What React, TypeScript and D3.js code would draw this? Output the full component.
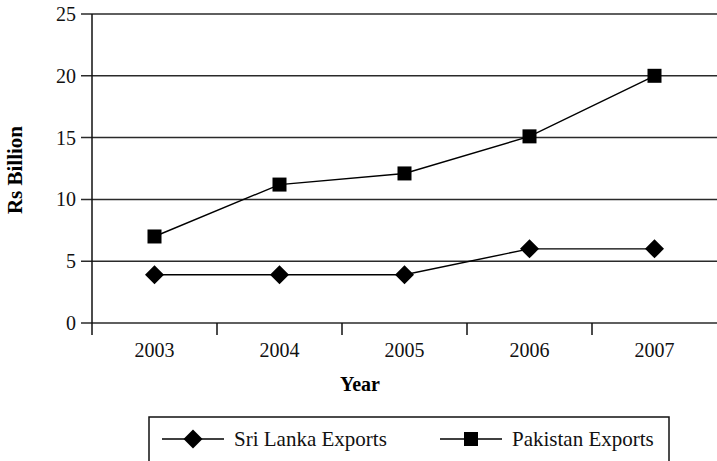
import React from "react";
import * as d3 from "d3";

// chart data
const years = ["2003", "2004", "2005", "2006", "2007"];
const sriLankaExports = [3.9, 3.9, 3.9, 6, 6];
const pakistanExports = [7, 11.2, 12.1, 15.1, 20];
const yTicks = [0, 5, 10, 15, 20, 25];

const FONT = "'Liberation Serif', 'Times New Roman', serif";

const App = () => {
  const svgRef = React.useRef<SVGSVGElement | null>(null);
  const width = 717;
  const height = 461;
  const plot = { left: 92, right: 717, top: 14, bottom: 323 };

  React.useEffect(() => {
    const svg = d3.select(svgRef.current);
    svg.selectAll("*").remove();

    const x = d3
      .scaleBand<string>()
      .domain(years)
      .range([plot.left, plot.right]);
    const y = d3.scaleLinear().domain([0, 25]).range([plot.bottom, plot.top]);
    const cx = (d: string) => (x(d) as number) + x.bandwidth() / 2;

    // horizontal grid lines
    svg
      .append("g")
      .selectAll("line")
      .data(yTicks)
      .enter()
      .append("line")
      .attr("x1", plot.left - 11)
      .attr("x2", plot.right)
      .attr("y1", (d) => y(d))
      .attr("y2", (d) => y(d))
      .style("stroke", "#2a2a2a")
      .style("stroke-width", 1.5);

    // y axis line
    svg
      .append("line")
      .attr("x1", plot.left)
      .attr("x2", plot.left)
      .attr("y1", y(25))
      .attr("y2", plot.bottom + 12)
      .style("stroke", "#111")
      .style("stroke-width", 1.5);

    // y tick labels
    svg
      .append("g")
      .selectAll("text")
      .data(yTicks)
      .enter()
      .append("text")
      .attr("x", plot.left - 16)
      .attr("y", (d) => y(d))
      .attr("dy", "0.35em")
      .attr("text-anchor", "end")
      .style("font-family", FONT)
      .style("font-size", "20px")
      .style("fill", "#111")
      .text((d) => d);

    // x ticks between categories
    svg
      .append("g")
      .selectAll("line")
      .data(years.slice(1))
      .enter()
      .append("line")
      .attr("x1", (d) => x(d) as number)
      .attr("x2", (d) => x(d) as number)
      .attr("y1", plot.bottom)
      .attr("y2", plot.bottom + 12)
      .style("stroke", "#111")
      .style("stroke-width", 1.5);

    // x tick labels
    svg
      .append("g")
      .selectAll("text")
      .data(years)
      .enter()
      .append("text")
      .attr("x", cx)
      .attr("y", 357)
      .attr("text-anchor", "middle")
      .style("font-family", FONT)
      .style("font-size", "20px")
      .style("fill", "#111")
      .text((d) => d);

    // axis titles
    svg
      .append("text")
      .attr("x", 360)
      .attr("y", 391)
      .attr("text-anchor", "middle")
      .style("font-family", FONT)
      .style("font-size", "20px")
      .style("font-weight", "bold")
      .text("Year");
    svg
      .append("text")
      .attr("transform", "translate(22,170) rotate(-90)")
      .attr("text-anchor", "middle")
      .style("font-family", FONT)
      .style("font-size", "21px")
      .style("font-weight", "bold")
      .text("Rs Billion");

    const line = d3
      .line<number>()
      .x((_, i) => cx(years[i]))
      .y((d) => y(d));

    const diamond = (s: d3.Selection<any, any, any, any>) =>
      s
        .append("path")
        .attr("d", "M0,-9.5L9.5,0L0,9.5L-9.5,0Z")
        .style("fill", "#000");
    const square = (s: d3.Selection<any, any, any, any>) =>
      s
        .append("rect")
        .attr("x", -7)
        .attr("y", -7)
        .attr("width", 14)
        .attr("height", 14)
        .style("fill", "#000");

    // series lines
    [sriLankaExports, pakistanExports].forEach((vals) => {
      svg
        .append("path")
        .datum(vals)
        .attr("d", line)
        .style("fill", "none")
        .style("stroke", "#000")
        .style("stroke-width", 1.4);
    });

    // markers
    const slMarks = svg
      .append("g")
      .selectAll("g")
      .data(sriLankaExports)
      .enter()
      .append("g")
      .attr("transform", (d, i) => `translate(${cx(years[i])},${y(d)})`);
    diamond(slMarks);
    const pkMarks = svg
      .append("g")
      .selectAll("g")
      .data(pakistanExports)
      .enter()
      .append("g")
      .attr("transform", (d, i) => `translate(${cx(years[i])},${y(d)})`);
    square(pkMarks);

    // legend
    const legend = svg.append("g");
    legend
      .append("rect")
      .attr("x", 149)
      .attr("y", 417)
      .attr("width", 520)
      .attr("height", 70)
      .style("fill", "none")
      .style("stroke", "#111")
      .style("stroke-width", 1.5);
    const items = [
      { name: "Sri Lanka Exports", x0: 162, mark: diamond },
      { name: "Pakistan Exports", x0: 440, mark: square },
    ];
    items.forEach((it) => {
      const ly = 439;
      legend
        .append("line")
        .attr("x1", it.x0)
        .attr("x2", it.x0 + 62)
        .attr("y1", ly)
        .attr("y2", ly)
        .style("stroke", "#000")
        .style("stroke-width", 1.4);
      it.mark(legend.append("g").attr("transform", `translate(${it.x0 + 31},${ly})`));
      legend
        .append("text")
        .attr("x", it.x0 + 72)
        .attr("y", ly)
        .attr("dy", "0.35em")
        .style("font-family", FONT)
        .style("font-size", "21px")
        .style("fill", "#111")
        .text(it.name);
    });
  }, []);

  return (
    <svg
      ref={svgRef}
      width={width}
      height={height}
      style={{ position: "absolute", left: 0, top: 0, background: "#fff" }}
    />
  );
};

export default App;
